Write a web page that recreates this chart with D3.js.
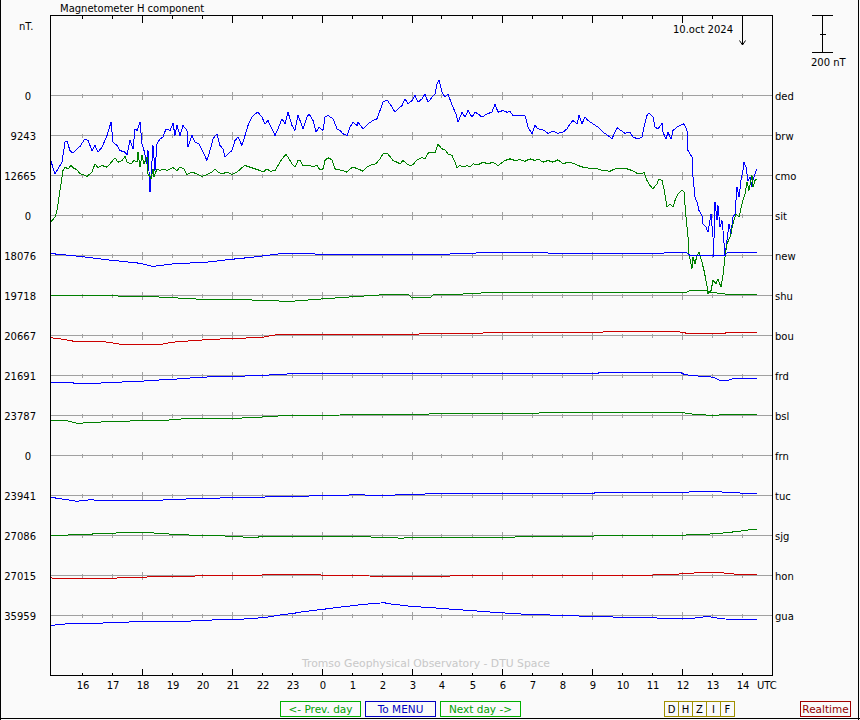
<!DOCTYPE html>
<html><head><meta charset="utf-8">
<script src="https://cdn.jsdelivr.net/npm/d3@7"></script>
<style>
html,body{margin:0;padding:0;background:#fafafa;}
svg{display:block;}
text{font-family:"DejaVu Sans",sans-serif;font-size:10px;}
</style></head><body>
<svg id="c" width="860" height="720"></svg>
<script>
// ---------------- data ----------------
const stations = ["ded","brw","cmo","sit","new","shu","bou","frd","bsl","frn","tuc","sjg","hon","gua"];
const baselines = [0,9243,12665,0,18076,19718,20667,21691,23787,0,23941,27086,27015,35959];
const hourLabels = [16,17,18,19,20,21,22,23,0,1,2,3,4,5,6,7,8,9,10,11,12,13,14];
const dateLabel = "10.oct 2024";
const scaleBarNT = 200;
// time = minutes after 15:00 UTC 9 Oct 2024, value = nT relative to the station baseline
const brwH = [[-2,-131],[7,-207],[13,-180],[21,-144],[27,-36],[31,-31],[37,-81],[43,-96],[51,-72],[57,-59],[67,-18],[73,-27],[81,-81],[87,-54],[93,-90],[101,-63],[111,0],[119,72],[123,-36],[131,-54],[137,-81],[147,-90],[151,-103],[157,-27],[163,-72],[167,36],[171,27],[177,72],[181,-45],[185,-81],[191,-153],[193,-81],[197,-306],[203,-54],[207,-189],[211,-45],[217,-18],[223,-9],[229,36],[237,27],[243,66],[247,0],[251,54],[257,0],[263,54],[271,27],[273,-63],[281,0],[287,-36],[295,-45],[303,-90],[311,-135],[317,-81],[323,-18],[331,9],[337,-54],[343,-72],[347,-117],[353,-99],[361,-81],[367,-27],[373,-9],[381,-54],[387,0],[393,54],[401,99],[407,117],[413,126],[421,99],[427,63],[433,81],[441,36],[447,0],[453,36],[461,90],[467,63],[473,126],[481,54],[487,27],[493,108],[497,81],[503,36],[511,99],[515,117],[523,81],[529,18],[535,45],[543,27],[547,99],[553,108],[563,90],[571,36],[577,27],[583,9],[591,0],[597,45],[603,72],[611,54],[613,72],[623,36],[633,63],[643,81],[651,90],[657,135],[663,180],[671,193],[679,162],[687,126],[693,144],[701,162],[707,198],[713,171],[721,189],[727,216],[733,180],[741,198],[747,225],[753,180],[761,207],[767,225],[771,279],[775,301],[781,234],[787,207],[793,225],[799,180],[803,153],[809,117],[813,72],[821,126],[827,99],[833,135],[841,99],[847,126],[853,117],[861,99],[871,117],[881,126],[887,171],[893,126],[903,135],[911,126],[917,131],[923,108],[947,108],[953,45],[961,9],[967,54],[973,36],[983,31],[993,12],[1003,23],[1013,12],[1023,18],[1031,36],[1037,63],[1043,81],[1051,63],[1055,108],[1061,63],[1067,99],[1073,81],[1083,63],[1093,45],[1103,18],[1113,0],[1121,-18],[1127,18],[1131,42],[1139,27],[1147,12],[1157,18],[1163,-9],[1173,-18],[1181,-9],[1185,45],[1191,108],[1195,121],[1203,99],[1207,45],[1213,36],[1221,66],[1223,18],[1229,-18],[1233,18],[1239,-18],[1243,27],[1251,45],[1257,54],[1265,63],[1271,27],[1273,-81],[1281,-117],[1283,-225],[1287,-333],[1291,-360],[1295,-405],[1301,-432],[1303,-477],[1309,-496],[1313,-523],[1319,-423],[1323,-550],[1324,-658],[1327,-360],[1331,-459],[1333,-378],[1337,-496],[1341,-459],[1343,-513],[1347,-649],[1351,-568],[1355,-477],[1359,-531],[1363,-442],[1367,-423],[1371,-279],[1375,-333],[1379,-243],[1383,-189],[1385,-144],[1389,-171],[1393,-243],[1397,-225],[1401,-279],[1403,-243],[1407,-207],[1411,-180]];
const cmoH = [[-2,-252],[7,-225],[11,-189],[15,-117],[19,-45],[23,27],[27,45],[33,36],[39,54],[43,42],[51,31],[57,9],[63,5],[71,-5],[81,18],[87,63],[93,42],[101,54],[111,45],[117,63],[127,96],[133,72],[141,81],[147,103],[151,72],[159,63],[165,81],[171,72],[173,126],[177,45],[181,108],[185,63],[191,99],[193,9],[199,-18],[203,36],[205,-9],[211,36],[217,27],[223,36],[231,27],[237,36],[243,42],[251,27],[257,45],[265,36],[271,5],[281,18],[291,9],[301,-5],[311,5],[321,18],[327,36],[333,18],[341,9],[351,18],[361,5],[371,18],[381,42],[387,54],[397,45],[407,36],[417,27],[423,18],[431,36],[437,23],[447,27],[453,54],[461,90],[469,114],[473,99],[481,63],[487,45],[493,81],[497,81],[503,54],[513,54],[523,49],[531,54],[537,31],[543,36],[547,81],[553,96],[561,85],[567,36],[573,31],[583,27],[591,18],[597,36],[603,45],[613,36],[623,23],[631,45],[641,59],[649,63],[657,90],[663,117],[671,121],[677,103],[683,81],[691,72],[697,63],[703,81],[711,63],[717,54],[723,59],[731,85],[741,96],[747,90],[753,121],[761,126],[767,121],[773,168],[781,144],[787,139],[793,117],[801,108],[807,72],[811,42],[817,54],[823,45],[831,54],[837,45],[843,63],[853,58],[863,72],[873,63],[883,72],[893,54],[907,81],[917,90],[927,81],[937,85],[947,77],[957,90],[967,81],[973,90],[983,72],[993,81],[1003,72],[1013,85],[1023,63],[1033,72],[1043,66],[1053,54],[1063,45],[1077,39],[1091,36],[1103,27],[1117,23],[1127,36],[1137,39],[1151,36],[1161,27],[1171,12],[1181,9],[1185,18],[1191,-27],[1197,-54],[1203,-72],[1211,-45],[1215,-18],[1221,-27],[1225,-72],[1231,-171],[1237,-153],[1243,-171],[1247,-135],[1253,-99],[1261,-77],[1265,-90],[1269,-225],[1273,-333],[1275,-423],[1281,-504],[1283,-442],[1287,-477],[1291,-432],[1295,-415],[1301,-469],[1305,-513],[1311,-595],[1313,-639],[1319,-622],[1323,-568],[1329,-585],[1333,-558],[1339,-604],[1343,-541],[1347,-442],[1351,-369],[1357,-333],[1363,-261],[1369,-207],[1375,-225],[1381,-153],[1387,-99],[1391,-36],[1395,-81],[1401,0],[1403,-63],[1407,-27],[1411,-18]];
const newH = [[-3,11],[57,-5],[111,-23],[177,-42],[203,-59],[243,-45],[311,-36],[351,-23],[403,-9],[443,5],[467,12],[497,11],[557,5],[697,8],[797,8],[891,18],[957,14],[1097,12],[1271,14],[1277,0],[1347,0],[1351,15],[1411,15]];
const shuH = [[-2,-2],[177,-3],[237,-11],[317,-23],[397,-24],[477,-32],[543,-18],[611,-5],[663,4],[715,4],[719,-9],[759,-9],[763,4],[821,4],[827,13],[957,15],[1269,15],[1277,27],[1309,27],[1317,18],[1357,5],[1411,5]];
const bouH = [[-3,-12],[17,-18],[51,-34],[107,-34],[137,-47],[163,-49],[217,-49],[243,-36],[297,-25],[331,-20],[363,-15],[417,-12],[451,5],[497,5],[697,4],[771,12],[957,15],[1097,15],[1107,22],[1257,19],[1277,9],[1343,9],[1351,16],[1411,16]];
const frdH = [[-3,-36],[31,-36],[51,-43],[83,-43],[117,-38],[177,-31],[223,-23],[257,-18],[297,-9],[363,-5],[417,0],[477,9],[737,11],[797,12],[957,9],[1091,9],[1097,18],[1257,18],[1267,4],[1297,-4],[1323,-9],[1337,-27],[1351,-27],[1363,-18],[1411,-18]];
const bslH = [[-3,-27],[31,-29],[51,-42],[77,-39],[117,-32],[171,-29],[223,-27],[277,-15],[363,-16],[417,-9],[457,-2],[537,0],[611,5],[737,4],[771,12],[811,9],[971,9],[977,15],[1107,18],[1257,18],[1277,9],[1323,0],[1347,5],[1411,5]];
const tucH = [[-3,-9],[31,-23],[51,-31],[77,-23],[117,-29],[197,-29],[231,-23],[297,-16],[363,-12],[417,-9],[477,-4],[537,-2],[611,4],[657,0],[757,9],[837,11],[957,11],[1077,9],[1091,16],[1231,16],[1293,20],[1337,20],[1357,15],[1411,11]];
const sjgH = [[-3,-2],[43,4],[91,9],[143,15],[197,15],[257,4],[311,0],[363,-4],[403,-12],[423,-5],[497,-5],[677,-9],[697,-15],[731,-9],[957,-8],[1023,-7],[1097,-2],[1243,-2],[1277,4],[1327,9],[1373,22],[1397,31],[1411,31]];
const honH = [[-3,-9],[3,-16],[51,-16],[117,-15],[177,-9],[263,-4],[337,0],[391,-2],[437,5],[497,5],[587,0],[677,-5],[837,-2],[1193,-2],[1207,4],[1237,5],[1277,12],[1307,18],[1333,18],[1353,11],[1377,5],[1411,4]];
const guaH = [[-3,-54],[31,-45],[91,-42],[143,-36],[203,-32],[263,-32],[331,-23],[397,-18],[431,-9],[463,5],[483,11],[497,18],[523,27],[551,36],[577,45],[617,58],[637,63],[665,69],[677,63],[717,50],[777,39],[811,32],[857,23],[897,15],[957,5],[983,4],[1027,0],[1097,-7],[1187,-11],[1253,-18],[1283,-15],[1311,-5],[1341,-18],[1377,-23],[1411,-23]];
const seriesByStation = {brw:brwH, cmo:cmoH, new:newH, shu:shuH, bou:bouH, frd:frdH, bsl:bslH, tuc:tucH, sjg:sjgH, hon:honH, gua:guaH};

// ---------------- styles ----------------
const BLUE="#0000ff", GREEN="#008000", RED="#cc0000";
const lineColor = {brw:BLUE, cmo:GREEN, new:BLUE, shu:GREEN, bou:RED, frd:BLUE, bsl:GREEN, tuc:BLUE, sjg:GREEN, hon:RED, gua:BLUE};

const svg = d3.select("#c");
const L=50.5, R=772.5, T=15.5, B=675.5;

// outer border (left, right, bottom)
svg.append("rect").attr("x",0).attr("y",0).attr("width",860).attr("height",720).attr("fill","#fafafa");
const border = svg.append("g").attr("stroke","#000").attr("shape-rendering","crispEdges");
border.append("line").attr("x1",0.5).attr("x2",0.5).attr("y1",0).attr("y2",720);
border.append("line").attr("x1",858.5).attr("x2",858.5).attr("y1",0).attr("y2",720);
border.append("line").attr("x1",0).attr("x2",860).attr("y1",718.5).attr("y2",718.5);

// scales
const x = d3.scaleLinear().domain([-3,1443]).range([50,773]);
const tickMin = hourLabels.map((h,i)=>(i+1)*60);
const row = d3.scalePoint().domain(stations).range([95.5,615.5]);
const dv = d3.scaleLinear().domain([-scaleBarNT, scaleBarNT]).range([37,-37]);
const px = m => Math.round(x(m)) + 0.5;

// grid lines
const grid = svg.append("g").attr("shape-rendering","crispEdges");
stations.forEach(s=>{
  const y=row(s);
  grid.append("line").attr("x1",L).attr("x2",R).attr("y1",y).attr("y2",y).attr("stroke","#a0a0a0");
  tickMin.forEach((m,i)=>{
    const long = hourLabels[i]%3===0;
    grid.append("line").attr("x1",px(m)).attr("x2",px(m))
      .attr("y1",y-(long?4:2)).attr("y2",y+(long?4:2)).attr("stroke","#a0a0a0");
  });
});

// watermark
svg.append("text").attr("x",426).attr("y",667).attr("text-anchor","middle").attr("fill","#c8c8c8")
  .style("font-size","10.8px").text("Tromso Geophysical Observatory - DTU Space");

// data lines
const gLines = svg.append("g").attr("fill","none").attr("shape-rendering","crispEdges");
stations.forEach(s=>{
  const d = seriesByStation[s];
  if(!d) return;
  const line = d3.line().x(p=>x(p[0])).y(p=>row(s)+dv(p[1]));
  gLines.append("path").attr("d",line(d)).attr("stroke",lineColor[s]).attr("stroke-width",1);
});

// frame + axis
const frame = svg.append("g").attr("stroke","#000").attr("shape-rendering","crispEdges");
frame.append("rect").attr("x",L).attr("y",T).attr("width",R-L).attr("height",B-T).attr("fill","none");
tickMin.forEach((m,i)=>{
  const long = hourLabels[i]%3===0;
  frame.append("line").attr("x1",px(m)).attr("x2",px(m)).attr("y1",T).attr("y2",T+(long?7:3));
  frame.append("line").attr("x1",px(m)).attr("x2",px(m)).attr("y1",B).attr("y2",B-(long?7:3));
});
svg.append("g").selectAll("text").data(hourLabels).join("text")
  .attr("x",(h,i)=>px(tickMin[i])+0.5).attr("y",688.5).attr("text-anchor","middle").text(h=>h);
svg.append("text").attr("x",757).attr("y",688.5).text("UTC");

// left labels & right station names
stations.forEach((s,i)=>{
  const y=row(s)+4;
  if(baselines[i]===0){
    svg.append("text").attr("x",28).attr("y",y).attr("text-anchor","middle").text(baselines[i]);
  } else {
    svg.append("text").attr("x",36).attr("y",y).attr("text-anchor","end").text(baselines[i]);
  }
  svg.append("text").attr("x",775).attr("y",y).text(s);
});
svg.append("text").attr("x",19).attr("y",29.5).text("nT.");
svg.append("text").attr("x",60).attr("y",11.5).text("Magnetometer H component");

// date arrow
const ax = px(1380);
const arr = svg.append("g").attr("stroke","#000").attr("fill","none");
arr.append("line").attr("x1",ax).attr("x2",ax).attr("y1",T).attr("y2",45).attr("shape-rendering","crispEdges");
arr.append("path").attr("d",`M${ax-3},40.5L${ax},45L${ax+3},40.5`);
svg.append("text").attr("x",733).attr("y",32.5).attr("text-anchor","end").text(dateLabel);

// scale bar
const sb = svg.append("g").attr("stroke","#000").attr("shape-rendering","crispEdges");
const sbTop = 15.5, sbBot = sbTop + (dv(-scaleBarNT/2)-dv(scaleBarNT/2));
sb.append("line").attr("x1",822.5).attr("x2",822.5).attr("y1",sbTop).attr("y2",sbBot);
sb.append("line").attr("x1",812).attr("x2",833).attr("y1",sbTop).attr("y2",sbTop);
sb.append("line").attr("x1",812).attr("x2",833).attr("y1",sbBot).attr("y2",sbBot);
sb.append("line").attr("x1",819.5).attr("x2",826).attr("y1",(sbTop+sbBot)/2).attr("y2",(sbTop+sbBot)/2);
svg.append("text").attr("x",811).attr("y",65.5).text(scaleBarNT+" nT");

// buttons
const buttons = [
  {t:"<- Prev. day", x:280.5, w:80, c:"#00b000", tc:"#00a000"},
  {t:"To MENU", x:365.5, w:70, c:"#0000c0", tc:"#0000c0"},
  {t:"Next day ->", x:440.5, w:80, c:"#00b000", tc:"#00a000"},
  {t:"Realtime", x:800.5, w:50, c:"#a00000", tc:"#900000"}
];
const gb = svg.append("g");
buttons.forEach(b=>{
  gb.append("rect").attr("x",b.x).attr("y",701.5).attr("width",b.w).attr("height",15)
    .attr("fill","none").attr("stroke",b.c).attr("shape-rendering","crispEdges");
  gb.append("text").attr("x",b.x+b.w/2).attr("y",713).attr("text-anchor","middle").attr("fill",b.tc)
    .style("font-size","10.5px").text(b.t);
});
const comps = ["D","H","Z","I","F"];
comps.forEach((c,i)=>{
  const bx = 664.5 + i*14;
  gb.append("rect").attr("x",bx).attr("y",701.5).attr("width",14).attr("height",15)
    .attr("fill","none").attr("stroke","#a09000").attr("shape-rendering","crispEdges");
  gb.append("text").attr("x",bx+7).attr("y",713).attr("text-anchor","middle").attr("fill","#000").text(c);
});
</script>
</body></html>
